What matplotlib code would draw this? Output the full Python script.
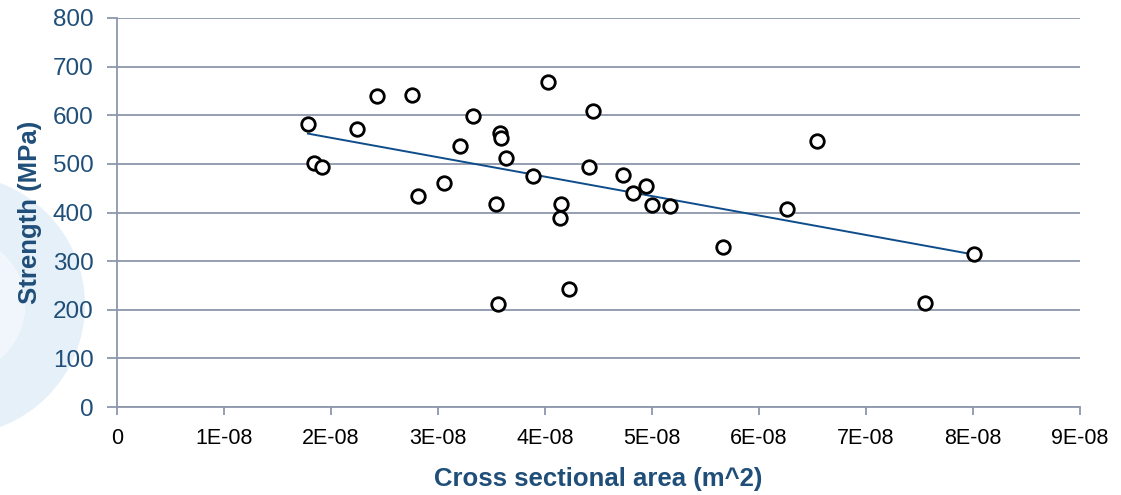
import numpy as np
import matplotlib
matplotlib.use("Agg")
import matplotlib.pyplot as plt
from matplotlib.patches import Wedge

plt.rcParams["font.family"] = ["Liberation Sans", "DejaVu Sans"]

# cross sectional area (m^2) and strength (MPa)
area = [
    1.785e-8, 1.843e-8, 1.919e-8, 2.24e-8, 2.43e-8, 2.757e-8, 2.81e-8, 3.06e-8,
    3.21e-8, 3.33e-8, 3.54e-8, 3.557e-8, 3.583e-8, 3.589e-8, 3.632e-8, 3.89e-8,
    4.03e-8, 4.146e-8, 4.14e-8, 4.227e-8, 4.41e-8, 4.45e-8, 4.729e-8, 4.825e-8,
    4.947e-8, 4.996e-8, 5.168e-8, 5.66e-8, 6.26e-8, 6.54e-8, 7.555e-8, 8.01e-8,
]
strength = [
    582, 502, 494, 572, 640, 641, 433, 461,
    537, 598, 417, 211, 564, 553, 512, 476,
    668, 417, 388, 243, 493, 608, 478, 441,
    454, 416, 414, 330, 408, 548, 214, 315,
]

x_ticks = [i * 1e-8 for i in range(10)]
x_labels = ["0"] + [f"{i}E-08" for i in range(1, 10)]
y_ticks = list(range(0, 801, 100))

BLUE = "#1F4E79"
GRID = "#8E97AC"

fig = plt.figure(figsize=(11.21, 4.95), dpi=100)

# faint decorative swoosh in the background
bg = fig.add_axes([0, 0, 1, 1], zorder=-1)
bg.set_xlim(0, 1121)
bg.set_ylim(495, 0)
bg.axis("off")
bg.add_patch(Wedge((-45, 305), 130, 0, 360, width=60, facecolor="#E6F0F8", edgecolor="none"))
bg.add_patch(Wedge((-45, 305), 70, 0, 360, width=30, facecolor="#F0F6FB", edgecolor="none"))

ax = fig.add_axes([117 / 1121, 1 - 407 / 495, (1080 - 117) / 1121, (407 - 18) / 495])
ax.patch.set_alpha(0)

ax.scatter(area, strength, s=95, facecolors="white", edgecolors="black",
           linewidths=2.0, zorder=3)

coef = np.polyfit(area, strength, 1)
xs = np.array([min(area), max(area)])
ax.plot(xs, np.polyval(coef, xs), color="#0F4C8A", lw=1.4, zorder=2)

ax.set_xlim(0, 9e-8)
ax.set_ylim(0, 800)
ax.set_xticks(x_ticks)
ax.set_xticklabels(x_labels)
ax.set_yticks(y_ticks)

ax.yaxis.grid(True, color=GRID, lw=1.3)
ax.set_axisbelow(True)
for s in ["top", "right"]:
    ax.spines[s].set_visible(False)
for s in ["left", "bottom"]:
    ax.spines[s].set_color(GRID)
    ax.spines[s].set_linewidth(1.3)

ax.tick_params(axis="x", colors=GRID, labelcolor="black", labelsize=15.5,
               length=6, width=1.3, pad=9)
ax.tick_params(axis="y", colors=GRID, labelcolor=BLUE, labelsize=17.5,
               length=7, width=1.3, pad=10)

ax.set_xlabel("Cross sectional area (m^2)", fontsize=18.5, fontweight="bold",
              color=BLUE, labelpad=13)
ax.yaxis.set_label_coords(-(117 - 42) / 963, 0.5)
ax.set_ylabel("Strength (MPa)", fontsize=18.5, fontweight="bold", color=BLUE)

fig.savefig("out.png", dpi=100)
